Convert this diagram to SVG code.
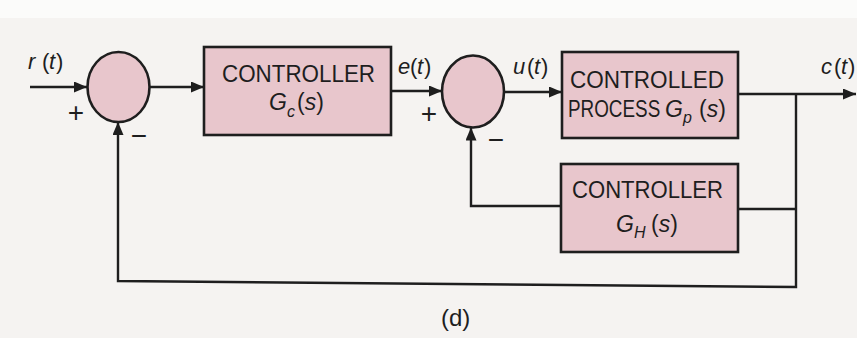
<svg xmlns="http://www.w3.org/2000/svg" width="857" height="338" viewBox="0 0 857 338">
<style>
.bg{fill:#f5f3f1}
.blk{fill:#e8c6cc;stroke:#1e1e1e;stroke-width:2.6}
.sum{fill:#e8c6cc;stroke:#1e1e1e;stroke-width:2.6}
.ln{fill:none;stroke:#1e1e1e;stroke-width:2.4}
.t{font-family:"Liberation Sans",Arial,sans-serif;font-size:24px;fill:#1e1e1e}
.it{font-family:"Liberation Sans",Arial,sans-serif;font-style:italic;font-size:22px;fill:#1e1e1e}
.gi{font-family:"Liberation Sans",Arial,sans-serif;font-style:italic;font-size:23px;fill:#1e1e1e}
.sub{font-size:16px}
.up{font-style:normal}
.sg{font-family:"Liberation Sans",Arial,sans-serif;font-size:28px;fill:#1e1e1e;text-anchor:middle}
</style>
<defs>
<marker id="ah" viewBox="0 0 13 11" refX="13" refY="5.5" markerWidth="13" markerHeight="11" markerUnits="userSpaceOnUse" orient="auto">
<path d="M0,0 L13,5.5 L0,11 Z" fill="#1e1e1e"/>
</marker>
</defs>
<rect class="bg" x="0" y="0" width="857" height="338"/>
<rect x="0" y="0" width="857" height="18" fill="#fbfbfa"/>

<g id="connectors">
<line class="ln" x1="30" y1="87" x2="87" y2="87" marker-end="url(#ah)"/>
<line class="ln" x1="150" y1="87" x2="204" y2="87" marker-end="url(#ah)"/>
<line class="ln" x1="391" y1="91" x2="442" y2="91" marker-end="url(#ah)"/>
<line class="ln" x1="504" y1="92" x2="562" y2="92" marker-end="url(#ah)"/>
<line class="ln" x1="738" y1="94" x2="856" y2="94" marker-end="url(#ah)"/>
<polyline class="ln" points="796,94 796,287 118,281 118,122" marker-end="url(#ah)"/>
<line class="ln" x1="738" y1="209" x2="796" y2="209"/>
<polyline class="ln" points="561,206 471,206 471,127.5" marker-end="url(#ah)"/>
</g>

<g id="sum1">
<ellipse class="sum" cx="118.5" cy="87" rx="31" ry="35"/>
<text class="sg" x="76" y="122">+</text>
<text class="sg" x="139" y="145">−</text>
</g>

<g id="controller1">
<rect class="blk" x="204" y="47" width="187" height="88"/>
<text class="t" x="222" y="82" textLength="153" lengthAdjust="spacingAndGlyphs">CONTROLLER</text>
<text class="gi" x="269" y="110">G<tspan class="sub" x="287" y="117">c</tspan><tspan class="up" x="297" y="110">(</tspan>s<tspan class="up">)</tspan></text>
</g>

<g id="sum2">
<ellipse class="sum" cx="473" cy="91.5" rx="31" ry="36"/>
<text class="sg" x="429" y="123">+</text>
<text class="sg" x="496" y="149">−</text>
</g>

<g id="process">
<rect class="blk" x="562" y="52" width="176" height="86"/>
<text class="t" x="570" y="88" textLength="154" lengthAdjust="spacingAndGlyphs">CONTROLLED</text>
<text class="t" transform="matrix(0.786 0 0 1 568 117)" x="0" y="0">PROCESS</text>
<text class="gi" x="665" y="117">G<tspan class="sub" x="683" y="123">p</tspan><tspan class="up" x="699" y="117">(</tspan>s<tspan class="up">)</tspan></text>
</g>

<g id="controller2">
<rect class="blk" x="561" y="164" width="177" height="88"/>
<text class="t" x="572" y="198" textLength="151" lengthAdjust="spacingAndGlyphs">CONTROLLER</text>
<text class="gi" x="616" y="232">G<tspan class="sub" x="634" y="238">H</tspan><tspan class="up" x="651" y="232">(</tspan>s<tspan class="up">)</tspan></text>
</g>

<g id="labels">
<text class="it" x="28" y="69">r<tspan x="42" class="up">(</tspan><tspan x="49">t</tspan><tspan x="56" class="up">)</tspan></text>
<text class="it" x="398" y="74">e<tspan x="410" class="up">(</tspan><tspan x="417">t</tspan><tspan x="424" class="up">)</tspan></text>
<text class="it" x="513" y="74">u<tspan x="527" class="up">(</tspan><tspan x="534">t</tspan><tspan x="541" class="up">)</tspan></text>
<text class="it" x="821" y="74">c<tspan x="834" class="up">(</tspan><tspan x="841">t</tspan><tspan x="848" class="up">)</tspan></text>
<text class="t" x="441" y="326" font-size="18">(d)</text>
</g>
</svg>
